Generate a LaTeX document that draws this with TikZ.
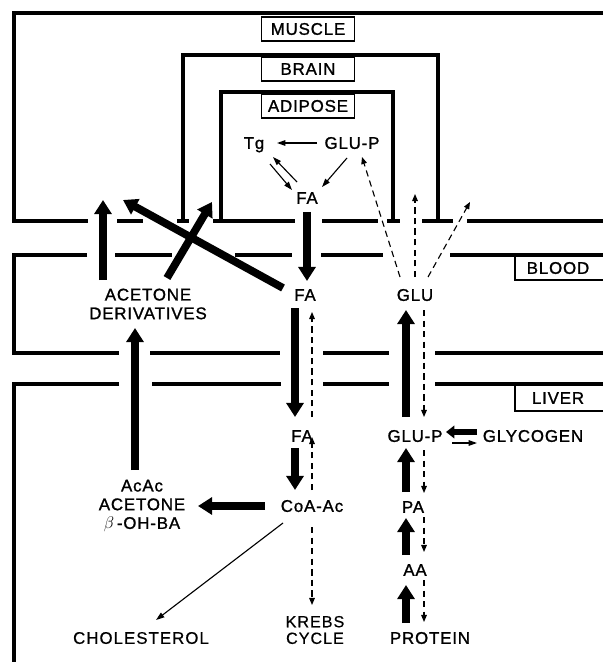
\documentclass[tikz,border=0pt]{standalone}
\usepackage{fontspec}
\setmainfont{Liberation Sans}[LetterSpace=5, FakeBold=1.2]
\newfontfamily\lightfont{Liberation Sans}[LetterSpace=6, FakeBold=0.5]
\usetikzlibrary{arrows.meta,calc}

\begin{document}
\begin{tikzpicture}[x=0.025cm, y=-0.025cm,
    lbl/.style={inner sep=1pt, text height=8.3pt, text depth=0pt,
                font=\fontsize{12}{13.5}\selectfont},
    stack/.style={inner sep=1pt, align=center,
                  font=\fontsize{12}{13.3}\selectfont},
    tagbox/.style={draw, line width=1.2pt, minimum width=2.33cm,
                   minimum height=0.6cm, inner sep=0pt,
                   font=\fontsize{12}{13.5}\selectfont},
    wall/.style={line width=2.2pt},
    tabline/.style={line width=1.2pt},
    fat/.style={line width=5.5pt, -{Triangle[width=12pt,length=10pt]}},
    midarr/.style={line width=4pt, -{Triangle[width=9pt,length=6pt]}},
    thinarr/.style={line width=0.8pt, -{Triangle[width=4pt,length=6pt]}},
    dasharr/.style={line width=0.8pt, dash pattern=on 4.5pt off 3pt,
                    -{Triangle[width=4pt,length=5pt]}}]

  \useasboundingbox (0,0) rectangle (603,662);

  %% compartments
  % muscle
  \draw[wall] (603,13) -- (14,13) -- (14,221) -- (88,221);
  \draw[wall] (117,221) -- (143,221);
  \draw[wall] (177,221) -- (189,221);
  \draw[wall] (213,221) -- (295,221);
  \draw[wall] (322,221) -- (378,221);
  \draw[wall] (387,221) -- (400,221);
  \draw[wall] (422,221) -- (453,221);
  \draw[wall] (467,221) -- (603,221);
  % brain and adipose
  \draw[wall] (183,221) -- (183,55) -- (438,55) -- (438,221);
  \draw[wall] (221,221) -- (221,92) -- (393,92) -- (393,221);
  % blood
  \draw[wall] (87,255) -- (14,255) -- (14,353) -- (119,353);
  \draw[wall] (115,255) -- (172,255);
  \draw[wall] (235,255) -- (292,255);
  \draw[wall] (321,255) -- (383,255);
  \draw[wall] (450,255) -- (603,255);
  \draw[wall] (150,353) -- (280,353);
  \draw[wall] (323,353) -- (389,353);
  \draw[wall] (435,353) -- (603,353);
  % liver
  \draw[wall] (119,384) -- (14,384) -- (14,662);
  \draw[wall] (152,384) -- (281,384);
  \draw[wall] (323,384) -- (389,384);
  \draw[wall] (435,384) -- (603,384);

  %% compartment tags
  \node[tagbox] (muscle) at (308,29) {MUSCLE};
  \node[tagbox] (brain) at (308,69) {BRAIN};
  \node[tagbox] (adipose) at (308,106) {ADIPOSE};
  \draw[tabline] (515,255) -- (515,280) -- (603,280);
  \node[lbl] (blood) at (558,268) {BLOOD};
  \draw[tabline] (515,384) -- (515,411) -- (603,411);
  \node[lbl] (liver) at (558,398) {LIVER};

  %% metabolites
  \node[lbl] (tg) at (254,143) {Tg};
  \node[lbl] (glupA) at (352,143) {GLU-P};
  \node[lbl] (faA) at (307,198) {FA};
  \node[stack] (acder) at (148,304) {ACETONE\\DERIVATIVES};
  \node[lbl] (faB) at (305,295) {FA};
  \node[lbl] (glu) at (415,295) {GLU};
  \node[lbl] (faL) at (302,436) {FA};
  \node[lbl] (glupL) at (415,436) {GLU-P};
  \node[lbl] (glycogen) at (533,436) {GLYCOGEN};
  \node[lbl] (coa) at (312,506) {CoA-Ac};
  \node[stack] (ketone) at (142,506) {AcAc\\ACETONE\\$\beta$\,-OH-BA};
  \node[lbl] (pa) at (413,507) {PA};
  \node[lbl] (aa) at (415,570) {AA};
  \node[stack, font=\lightfont\fontsize{11.5}{11.8}\selectfont] (krebs) at (315,630) {KREBS\\CYCLE};
  \node[lbl, font=\lightfont\fontsize{12}{13.5}\selectfont] (chol) at (141,638) {CHOLESTEROL};
  \node[lbl] (protein) at (430,638) {PROTEIN};

  %% free ends in muscle
  \coordinate (mtipA) at (103,200);
  \coordinate (mtipB) at (123,200);
  \coordinate (btip) at (212,202);
  \coordinate (mtipC) at (415,194);
  \coordinate (mtipD) at (470,202);

  %% adipose
  \draw[thinarr] ($(glupA)+(-35,0)$) -- ($(tg)+(23,0)$);
  \draw[thinarr] ($(tg)+(16,21)$) -- ($(faA)+(-15,-8)$);
  \draw[thinarr] ($(faA)+(-10,-16)$) -- ($(tg)+(19,14)$);
  \draw[thinarr] ($(glupA)+(-5,15)$) -- ($(faA)+(15,-11)$);

  %% fatty acids
  \draw[fat] ($(faA)+(0,14)$) -- ($(faB)+(2,-14)$);
  \draw[fat] ($(faB)+(-10,13)$) -- ($(faL)+(-7,-19)$);
  \draw[dasharr] ($(faL)+(10,-19)$) -- ($(faB)+(7,17)$);
  \draw[fat] ($(faL)+(-7,12)$) -- ($(coa)+(-17,-16)$);
  \draw[dasharr] ($(coa)+(0,-16)$) -- ($(faL)+(10,1)$);
  \draw[dasharr] ($(coa)+(0,21)$) -- ($(krebs)+(-3,-25)$);
  \draw[fat] ($(coa)+(-47,0)$) -- ($(ketone)+(56,0)$);
  \draw[thinarr] ($(coa)+(-29,17)$) -- ($(chol)+(15,-18)$);
  \draw[fat] ($(ketone)+(-7,-36)$) -- ($(acder)+(-13,24)$);
  \draw[fat] ($(acder)+(-45,-24)$) -- (mtipA);
  \draw[fat] ($(acder)+(19,-26)$) -- (btip);
  \draw[fat] ($(faB)+(-22,-7)$) -- (mtipB);

  %% glucose
  \draw[dasharr] ($(glu)+(-15,-18)$) -- ($(glupA)+(10,14)$);
  \draw[dasharr] ($(glu)+(0,-18)$) -- (mtipC);
  \draw[dasharr] ($(glu)+(13,-18)$) -- (mtipD);
  \draw[fat] ($(glupL)+(-9,-19)$) -- ($(glu)+(-9,15)$);
  \draw[dasharr] ($(glu)+(9,15)$) -- ($(glupL)+(9,-19)$);
  \draw[midarr] ($(glycogen)+(-56,-4)$) -- ($(glupL)+(31,-4)$);
  \draw[thinarr] ($(glupL)+(37,7)$) -- ($(glycogen)+(-56,7)$);
  \draw[fat] ($(pa)+(-7,-15)$) -- ($(glupL)+(-9,12)$);
  \draw[dasharr] ($(glupL)+(9,14)$) -- ($(pa)+(11,-14)$);
  \draw[fat] ($(aa)+(-9,-15)$) -- ($(pa)+(-7,11)$);
  \draw[dasharr] ($(pa)+(11,10)$) -- ($(aa)+(9,-18)$);
  \draw[fat] ($(protein)+(-24,-15)$) -- ($(aa)+(-9,15)$);
  \draw[dasharr] ($(aa)+(9,10)$) -- ($(protein)+(-6,-16)$);
\end{tikzpicture}
\end{document}
